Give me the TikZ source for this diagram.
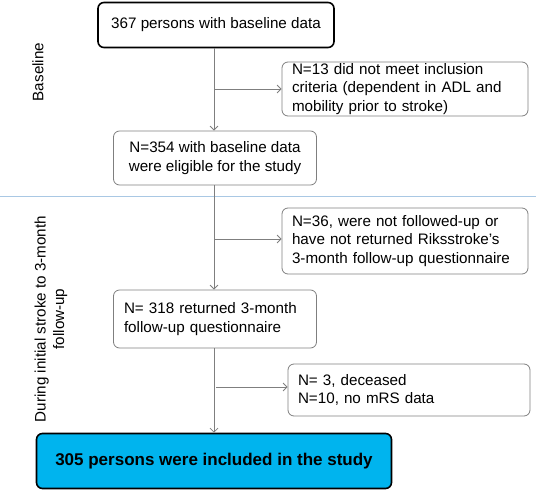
\documentclass[tikz,border=0pt]{standalone}
\usepackage{fontspec}
\setmainfont{Liberation Sans}
\usetikzlibrary{arrows.meta}
\definecolor{boxgray}{HTML}{7F7F7F}
\definecolor{sepblue}{HTML}{A9C8E4}
\definecolor{finalblue}{HTML}{00B4EE}

\begin{document}
\begin{tikzpicture}[x=1pt,y=-1pt]
\tikzstyle{every node}+=[font=\fontsize{15.2}{18.5}\selectfont]
\tikzstyle{mainbox}=[draw=black, line width=1.6pt, rounded corners=6pt, align=center, inner sep=0pt]
\tikzstyle{flowbox}=[draw=boxgray, line width=0.8pt, rounded corners=6pt, inner sep=0pt]
\tikzstyle{flowline}=[draw=boxgray, line width=0.8pt]
\tikzstyle{flowarrow}=[flowline, -{Straight Barb[length=4pt,width=8pt]}]
\useasboundingbox (0,0) rectangle (536,493);
\draw [sepblue, line width=0.8pt] (0,196) -- (536,196);
\node [mainbox, minimum width=236pt, minimum height=45pt] (start) at (216,25) {367 persons with baseline data};
\node [flowbox, minimum width=246pt, minimum height=54pt, text width=226pt, align=left] (excla) at (405,89) {N=13 did not meet inclusion\\criteria (dependent in ADL and\\mobility prior to stroke)};
\node [flowbox, minimum width=203pt, minimum height=54pt, align=center] (elig) at (215,158) {N=354 with baseline data\\were eligible for the study};
\node [flowbox, minimum width=246pt, minimum height=66pt, text width=226pt, align=left] (exclb) at (405,241) {N=36, were not followed-up or\\have not returned Riksstroke's\\3-month follow-up questionnaire};
\node [flowbox, minimum width=203pt, minimum height=58pt, text width=182pt, align=left] (ret) at (215,319) {N= 318 returned 3-month\\follow-up questionnaire};
\node [flowbox, minimum width=242pt, minimum height=52pt, text width=222pt, align=left] (exclc) at (409,390) {N= 3, deceased\\N=10, no mRS data};
\node [mainbox, fill=finalblue, minimum width=355pt, minimum height=55pt, font=\fontsize{17}{20}\selectfont\bfseries] (final) at (214,461) {305 persons were included in the study};
\node [rotate=90] (phasea) at (38,72) {Baseline};
\node [rotate=90, align=center] (phaseb) at (51,319) {During initial stroke to 3-month\\follow-up};
\draw [flowarrow] (start.south -| 214,0) -- (elig.north -| 214,0);
\draw [flowarrow] (elig.south -| 214,0) -- (ret.north -| 214,0);
\draw [flowarrow] (ret.south -| 214,0) -- (final.north -| 214,0);
\coordinate (brancha) at (214,89);
\coordinate (branchb) at (214,239);
\coordinate (branchc) at (216,387);
\draw [flowarrow] (brancha) -- (brancha -| excla.west);
\draw [flowarrow] (branchb) -- (branchb -| exclb.west);
\draw [flowarrow] (branchc) -- (branchc -| exclc.west);
\end{tikzpicture}
\end{document}
